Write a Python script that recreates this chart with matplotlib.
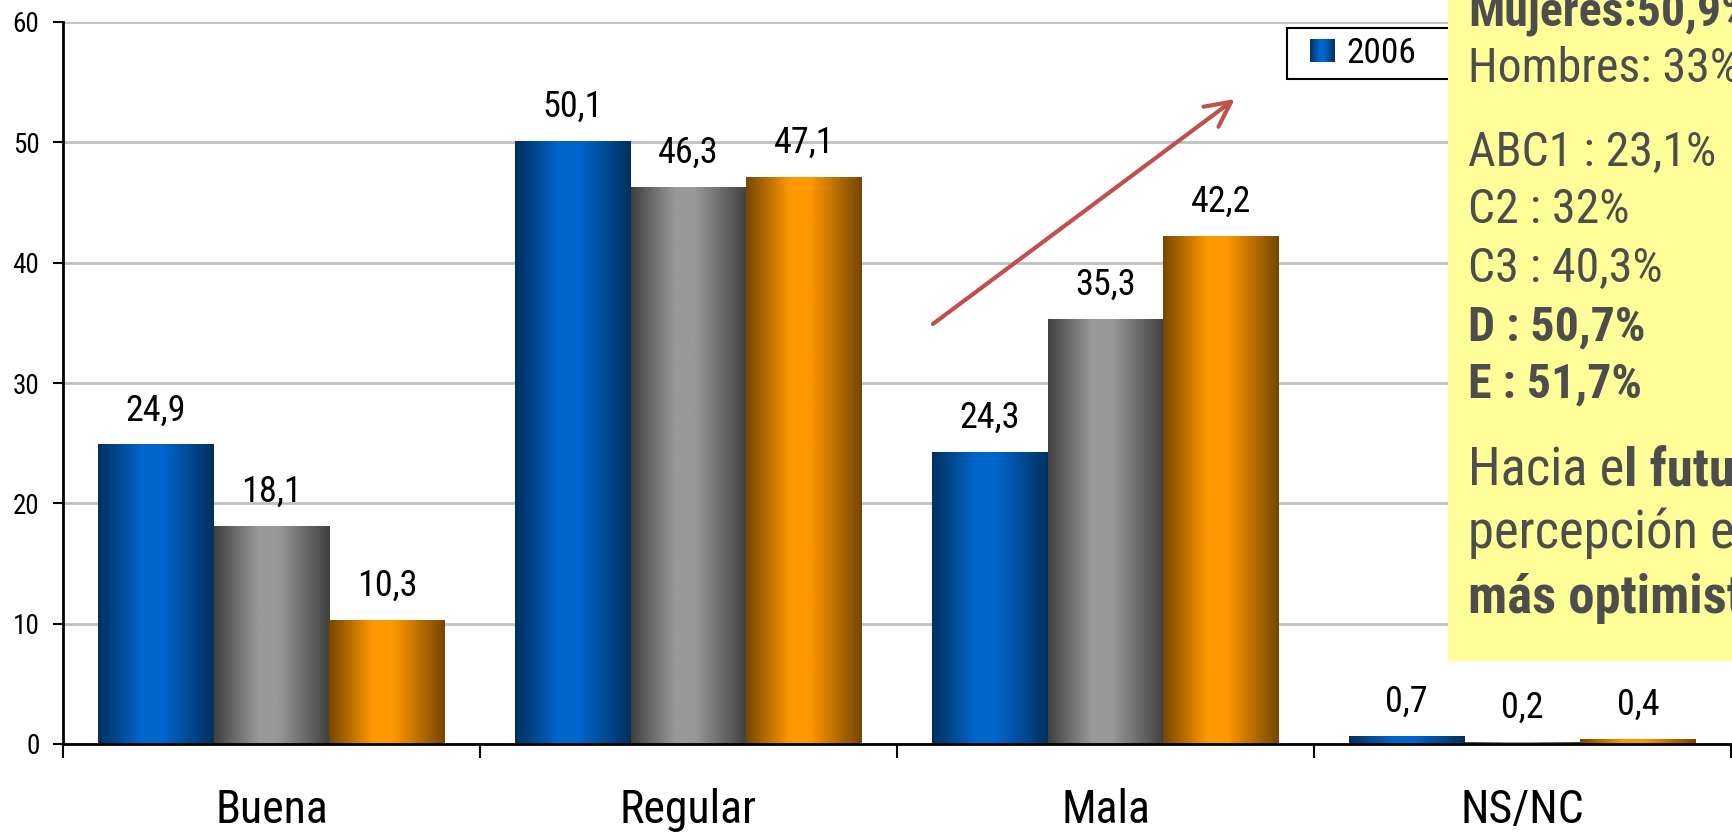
import numpy as np
import matplotlib
matplotlib.use('Agg')
import matplotlib.pyplot as plt
from matplotlib.colors import LinearSegmentedColormap
from matplotlib.patches import Rectangle
from matplotlib.legend_handler import HandlerBase
from matplotlib.image import BboxImage
from matplotlib.transforms import Bbox, TransformedBbox

# data
categories = ['Buena', 'Regular', 'Mala', 'NS/NC']
serie_a = [24.9, 50.1, 24.3, 0.7]   # blue, "2006"
serie_b = [18.1, 46.3, 35.3, 0.2]   # gray
serie_c = [10.3, 47.1, 42.2, 0.4]   # orange
legend_label = '2006'
y_ticks = [0, 10, 20, 30, 40, 50, 60]

# yellow note box: (text, weight, baseline px from top)
note_lines = [
    ('Mujeres:50,9%', 'bold', 25),
    ('Hombres: 33%', 'normal', 82),
    ('ABC1 : 23,1%', 'normal', 166),
    ('C2 : 32%', 'normal', 223),
    ('C3 : 40,3%', 'normal', 282),
    ('D : 50,7%', 'bold', 340),
    ('E : 51,7%', 'bold', 397),
]
# second block, pieces joined on one line
note_block = [
    [('Hacia e', 'normal'), ('l futuro', 'bold')],
    [('percepción es', 'normal')],
    [('más optimista', 'bold')],
]
note_block_base = [485, 548, 613]

W, H = 1733, 839
FONT = ['Roboto Condensed', 'Liberation Sans Narrow', 'Roboto', 'DejaVu Sans']
plt.rcParams['font.family'] = FONT

palettes = [('#00305f', '#0066cc'), ('#404040', '#999999'), ('#764600', '#ff9900')]


def make_cmap(dark, bright):
    return LinearSegmentedColormap.from_list(
        '', [(0, dark), (0.38, bright), (0.55, bright), (1, dark)])


grad = np.linspace(0, 1, 256).reshape(1, -1)


class GradientHandler(HandlerBase):
    def __init__(self, cmap, **kw):
        super().__init__(**kw)
        self.cmap = cmap

    def create_artists(self, legend, orig_handle, xdescent, ydescent,
                       width, height, fontsize, trans):
        sw = 0.69 * fontsize
        bb = TransformedBbox(Bbox.from_bounds(-xdescent + width - sw, -ydescent, sw, height), trans)
        img = BboxImage(bb, cmap=self.cmap, interpolation='bicubic')
        img.set_data(grad)
        return [img]


fig = plt.figure(figsize=(W / 100, H / 100), dpi=100)
ax = fig.add_axes([63 / W, (H - 744) / H, 1668 / W, 722 / H])

x = np.arange(len(categories))
bw = 0.278
series = [serie_a, serie_b, serie_c]
all_bars = []
for i, (vals, (dark, bright)) in enumerate(zip(series, palettes)):
    bars = ax.bar(x + (i - 1) * bw, vals, bw, facecolor='none', edgecolor='none', zorder=2)
    cmap = make_cmap(dark, bright)
    for b in bars:
        bx, by = b.get_x(), b.get_y()
        im = ax.imshow(grad, cmap=cmap, aspect='auto', interpolation='bicubic',
                       extent=(bx, bx + b.get_width(), by, by + b.get_height()), zorder=2)
        im.set_clip_path(b)
        ax.annotate(f'{b.get_height():.1f}'.replace('.', ','),
                    xy=(bx + b.get_width() / 2, by + b.get_height()),
                    xytext=(0, 17.3), textcoords='offset points',
                    ha='center', va='baseline', fontsize=26, color='black')
    all_bars.append(bars)

ax.set_xlim(-0.5, len(categories) - 0.5)
ax.set_ylim(0, 60)
ax.set_yticks(y_ticks, labels=[str(v) for v in y_ticks])
ax.tick_params(axis='y', length=7, width=1.5, pad=10, labelsize=19.5)
ax.set_xticks(np.arange(-0.5, len(categories)), labels=[])
ax.tick_params(axis='x', which='major', length=10, width=1.5)
ax.set_xticks(x, labels=categories, minor=True)
ax.tick_params(axis='x', which='minor', length=0, pad=32, labelsize=33)

ax.grid(axis='y', color='#c0c0c0', lw=2)
ax.set_axisbelow(True)
for s in ['top', 'right']:
    ax.spines[s].set_visible(False)
for s in ['left', 'bottom']:
    ax.spines[s].set_linewidth(2)

# trend arrow over "Mala"
arrow_from = (1.586, 34.9)
arrow_to = (2.31, 53.6)
ax.annotate('', xy=arrow_to, xytext=arrow_from,
            arrowprops=dict(arrowstyle='->', color='#c0504d', lw=3,
                            mutation_scale=45, shrinkA=0, shrinkB=0), zorder=4)

# legend (mostly hidden behind the note box)
leg = ax.legend([all_bars[0]], [legend_label],
                handler_map={type(all_bars[0]): GradientHandler(make_cmap(*palettes[0]))},
                loc='upper left', mode='expand',
                bbox_to_anchor=(1287 / W, 0, 330 / W, (H - 28) / H),
                bbox_transform=fig.transFigure, borderaxespad=0,
                fontsize=25.5, handlelength=1.1, handleheight=0.6,
                handletextpad=0.32, borderpad=0.25, fancybox=False, framealpha=1)
leg.get_frame().set_edgecolor('black')
leg.get_frame().set_linewidth(1.5)

# yellow note box on top
fig.add_artist(Rectangle((1448 / W, (H - 661) / H), 1, 1, transform=fig.transFigure,
                         facecolor='#ffff99', edgecolor='none', zorder=5))
tx = 1468 / W
txt_color = '#4d4d4d'
for text, weight, base in note_lines:
    fig.text(tx, (H - base) / H, text, fontsize=34.5, fontweight=weight,
             color=txt_color, va='baseline', ha='left', zorder=6)

renderer = fig.canvas.get_renderer()
for pieces, base in zip(note_block, note_block_base):
    xpos = tx
    for text, weight in pieces:
        t = fig.text(xpos, (H - base) / H, text, fontsize=38, fontweight=weight,
                     color=txt_color, va='baseline', ha='left', zorder=6)
        xpos = t.get_window_extent(renderer).x1 / W

fig.savefig('out.png', dpi=100)
